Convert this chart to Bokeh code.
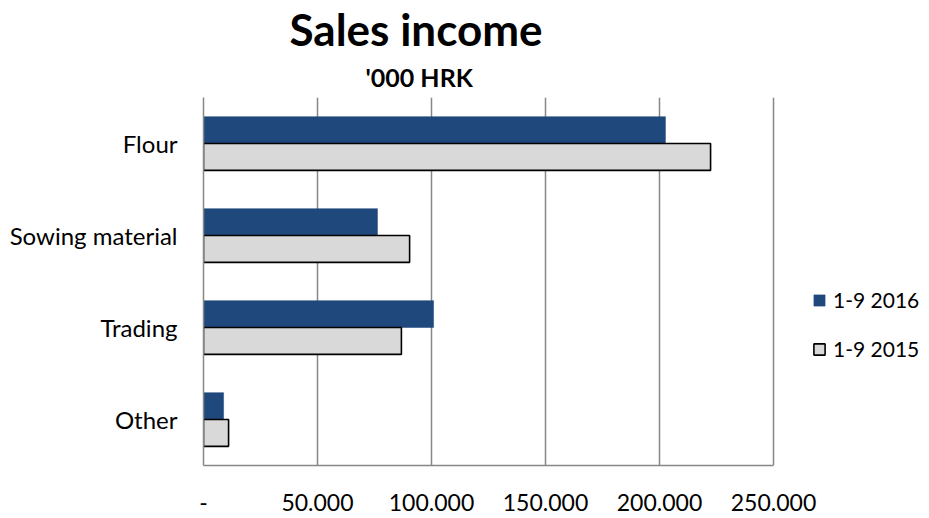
from bokeh.plotting import figure
from bokeh.models import FactorRange, Range1d, FixedTicker, Legend, LegendItem, Title, ColumnDataSource
from bokeh.transform import dodge
from bokeh.embed import file_html
from bokeh.resources import INLINE

# ---- data ----
categories = ["Flour", "Sowing material", "Trading", "Other"]
sales_2016 = [202600, 76300, 100900, 8800]
sales_2015 = [222400, 90400, 86800, 11000]
series_names = ["1-9 2016", "1-9 2015"]
tick_values = [0, 50000, 100000, 150000, 200000, 250000]
tick_labels = ["-", "50.000", "100.000", "150.000", "200.000", "250.000"]
title_text = "Sales income"
subtitle_text = "'000 HRK"

FONT = "Lato"
W, H = 929, 518
L, T, B = 203, 95, 53
AXIS_RIGHT_PX = 773          # pixel where the last tick (250.000) sits
x_max = tick_values[-1]
# frame spans to the right edge so the legend can sit inside it
x_end = x_max * (W - L) / (AXIS_RIGHT_PX - L)

src = ColumnDataSource(dict(cat=categories, s2016=sales_2016, s2015=sales_2015))

p = figure(width=W, height=H, output_backend="svg", toolbar_location=None,
           y_range=FactorRange(factors=list(reversed(categories)), range_padding=0),
           x_range=Range1d(0, x_end),
           min_border_left=L, min_border_right=0, min_border_top=T, min_border_bottom=B)
p.outline_line_color = None
p.background_fill_color = "white"
p.border_fill_color = "white"

bh = 0.292
r16 = p.hbar(y=dodge("cat", 0.146, range=p.y_range), right="s2016", left=0, height=bh,
             source=src, fill_color="#1F497D", line_color="#1F497D", line_width=0.5)
r15 = p.hbar(y=dodge("cat", -0.146, range=p.y_range), right="s2015", left=0, height=bh,
             source=src, fill_color="#D9D9D9", line_color="black", line_width=1.6)

# axes
xa = p.xaxis[0]
xa.ticker = FixedTicker(ticks=tick_values)
xa.bounds = (0, x_max)
xa.major_label_overrides = {v: t for v, t in zip(tick_values, tick_labels)}
xa.major_tick_line_color = None
xa.minor_tick_line_color = None
xa.axis_line_color = "#878787"
xa.axis_line_width = 1.5
xa.major_label_text_font = FONT
xa.major_label_text_font_size = "23px"
xa.major_label_text_color = "black"
xa.major_label_standoff = 22

ya = p.yaxis[0]
ya.major_tick_line_color = None
ya.minor_tick_line_color = None
ya.axis_line_color = "#878787"
ya.axis_line_width = 1.5
ya.major_label_text_font = FONT
ya.major_label_text_font_size = "24px"
ya.major_label_text_color = "black"
ya.major_label_standoff = 20

p.ygrid.grid_line_color = None
p.xgrid.ticker = FixedTicker(ticks=tick_values)
p.xgrid.grid_line_color = "#878787"
p.xgrid.grid_line_width = 1.5

# legend
legend = Legend(items=[LegendItem(label=series_names[0], renderers=[r16]),
                       LegendItem(label=series_names[1], renderers=[r15])],
                location=(609, 104), orientation="vertical",
                glyph_width=14, glyph_height=14, label_height=20, spacing=24,
                label_standoff=7, padding=0, margin=0,
                label_text_font=FONT, label_text_font_size="21px",
                label_text_color="black",
                border_line_color=None, background_fill_alpha=0)
p.add_layout(legend, "center")

# titles (subtitle first: it sits closer to the frame)
t2 = Title(text=subtitle_text, align="left", offset=162, text_font=FONT,
           text_font_size="25px", text_font_style="bold", text_color="black", standoff=11)
t1 = Title(text=title_text, align="left", offset=86, text_font=FONT,
           text_font_size="44px", text_font_style="bold", text_color="black", standoff=0)
p.add_layout(t2, "above")
p.add_layout(t1, "above")

open("out.html", "w").write(file_html(p, INLINE))
